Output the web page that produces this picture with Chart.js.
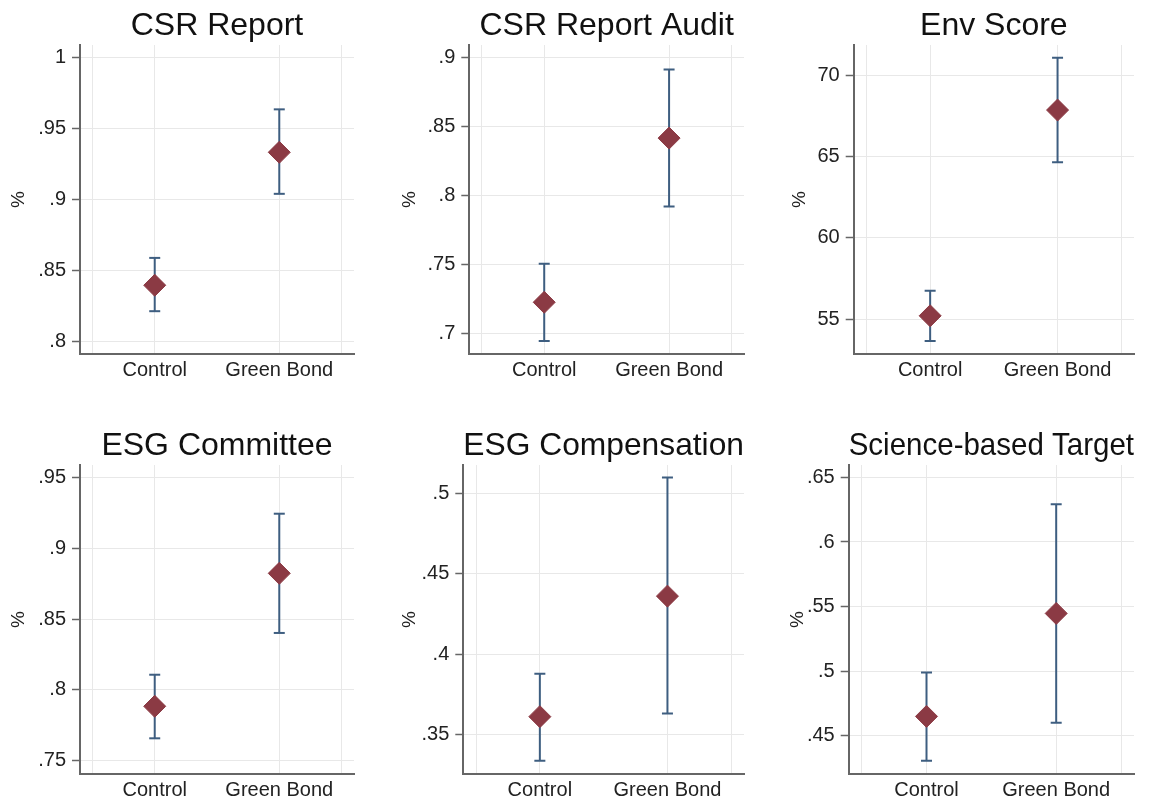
<!DOCTYPE html>
<html>
<head>
<meta charset="utf-8">
<script src="https://cdn.jsdelivr.net/npm/chart.js@4.4.1/dist/chart.umd.min.js"></script>
<style>
  html, body { margin: 0; padding: 0; background: #fff; overflow: hidden; }
  body { width: 1159px; height: 802px; position: relative; }
  canvas { position: absolute; }
</style>
</head>
<body>
<script>
// categories on the x axis (placed at x = 1, 2)
const categories = ['Control', 'Green Bond'];
const xGrid = [0.5, 1, 2, 2.5];

const titles = ['CSR Report', 'CSR Report Audit', 'Env Score',
                'ESG Committee', 'ESG Compensation', 'Science-based Target'];

// point estimates and 95% CI bounds [Control, Green Bond]
const means = [
  [0.8395, 0.9333],
  [0.7225, 0.8415],
  [55.2, 67.85],
  [0.7884, 0.8823],
  [0.3612, 0.4360],
  [0.4650, 0.5447]
];
const lows = [
  [0.8212, 0.9040],
  [0.6944, 0.7919],
  [53.65, 64.64],
  [0.7658, 0.8402],
  [0.3339, 0.3632],
  [0.4306, 0.4600]
];
const highs = [
  [0.8588, 0.9636],
  [0.7505, 0.8913],
  [56.74, 71.07],
  [0.8107, 0.9244],
  [0.3878, 0.5096],
  [0.4990, 0.6293]
];

// y axis ticks and extents
const yTicks = [
  [0.8, 0.85, 0.9, 0.95, 1],
  [0.7, 0.75, 0.8, 0.85, 0.9],
  [55, 60, 65, 70],
  [0.75, 0.8, 0.85, 0.9, 0.95],
  [0.35, 0.4, 0.45, 0.5],
  [0.45, 0.5, 0.55, 0.6, 0.65]
];
const yMin = [0.791, 0.685, 52.85, 0.7406, 0.3256, 0.4204];
const yMax = [1.009, 0.909, 71.85, 0.9588, 0.5174, 0.6596];

// panel placement: canvas left/top and chart area left/right
const panels = [
  { left: 4,   top: 0,   areaLeft: 80,    areaRight: 354 },
  { left: 395, top: 0,   areaLeft: 469.3, areaRight: 744.3 },
  { left: 785, top: 0,   areaLeft: 853.7, areaRight: 1133.7 },
  { left: 4,   top: 420, areaLeft: 80,    areaRight: 354 },
  { left: 395, top: 420, areaLeft: 463.3, areaRight: 744.3 },
  { left: 783, top: 420, areaLeft: 848.7, areaRight: 1133.7 }
];

const FONT = "'Liberation Sans', Arial, sans-serif";
const BAR = '#3e5e80';
const DOT = '#8b3a44';
const AXIS = '#666666';
const GRID = '#e8e8e8';
const PAD_RIGHT = 25;
const CANVAS_H = 382;
const AREA_BOTTOM = 354;

const fmt = (v) => {
  const s = String(Math.round(v * 1000) / 1000);
  return s.startsWith('0.') ? s.slice(1) : s;
};

panels.forEach((p, i) => {
  const canvas = document.createElement('canvas');
  const w = Math.round(p.areaRight + PAD_RIGHT - p.left);
  canvas.width = w;
  canvas.height = CANVAS_H;
  canvas.style.left = p.left + 'px';
  canvas.style.top = p.top + 'px';
  document.body.appendChild(canvas);

  const errorSets = categories.map((c, k) => ({
    type: 'line',
    data: [{ x: k + 1, y: lows[i][k] }, { x: k + 1, y: highs[i][k] }],
    borderColor: BAR,
    borderWidth: 2,
    pointStyle: 'line',
    pointRadius: 5.5,
    pointBorderWidth: 2,
    pointBorderColor: BAR,
    order: 1
  }));

  new Chart(canvas, {
    type: 'scatter',
    data: {
      datasets: [
        {
          data: categories.map((c, k) => ({ x: k + 1, y: means[i][k] })),
          pointStyle: 'rectRot',
          pointRadius: 11,
          backgroundColor: DOT,
          borderColor: DOT,
          pointBorderWidth: 1,
          order: 0
        },
        ...errorSets
      ]
    },
    options: {
      responsive: false,
      animation: false,
      devicePixelRatio: 1,
      layout: { padding: { top: 0, right: PAD_RIGHT, bottom: 0, left: 0 } },
      plugins: {
        legend: { display: false },
        tooltip: { enabled: false },
        title: {
          display: true,
          text: titles[i],
          fullSize: false,
          color: '#111',
          font: { family: FONT, size: 32, weight: 'normal', lineHeight: 1.15 },
          padding: { top: 8, bottom: 0.2 }
        }
      },
      scales: {
        x: {
          type: 'linear',
          min: 0.4,
          max: 2.6,
          afterBuildTicks: (axis) => { axis.ticks = xGrid.map(v => ({ value: v })); },
          afterFit: (axis) => { axis.height = CANVAS_H - AREA_BOTTOM; },
          ticks: {
            autoSkip: false,
            maxRotation: 0,
            padding: 4,
            color: '#222',
            font: { family: FONT, size: 20 },
            callback: (v) => (v === 1 || v === 2) ? categories[v - 1] : ''
          },
          grid: { color: GRID, drawTicks: false },
          border: { color: AXIS, width: 2 }
        },
        y: {
          min: yMin[i],
          max: yMax[i],
          afterBuildTicks: (axis) => { axis.ticks = yTicks[i].map(v => ({ value: v })); },
          afterFit: (axis) => { axis.width = p.areaLeft - p.left; },
          ticks: {
            autoSkip: false,
            padding: 6,
            color: '#222',
            font: { family: FONT, size: 20 },
            callback: (v) => fmt(v)
          },
          grid: { color: GRID, tickColor: AXIS, tickLength: 8, tickWidth: 1.5 },
          border: { color: AXIS, width: 2 },
          title: {
            display: true,
            text: '%',
            color: '#222',
            font: { family: FONT, size: 19 },
            padding: { top: 3, bottom: 0 }
          }
        }
      }
    }
  });
});
</script>
</body>
</html>
